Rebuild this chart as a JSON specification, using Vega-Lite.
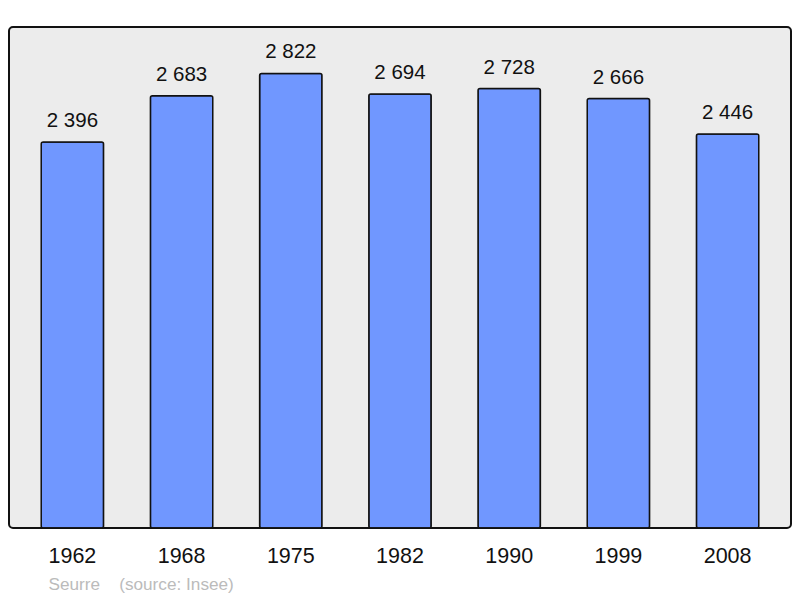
{
  "$schema": "https://vega.github.io/schema/vega-lite/v6.json",
  "width": 782,
  "height": 501,
  "autosize": {"type": "none"},
  "padding": {"left": 9, "top": 27, "right": 9, "bottom": 70},
  "background": "white",
  "config": {
    "font": "Liberation Sans",
    "view": {"fill": "#ececec", "stroke": "#111111", "strokeWidth": 2, "cornerRadius": 4},
    "locale": {"number": {"decimal": ",", "thousands": " ", "grouping": [3], "currency": ["", " €"]}}
  },
  "data": {
    "values": [
      {"year": "1962", "population": 2396},
      {"year": "1968", "population": 2683},
      {"year": "1975", "population": 2822},
      {"year": "1982", "population": 2694},
      {"year": "1990", "population": 2728},
      {"year": "1999", "population": 2666},
      {"year": "2008", "population": 2446}
    ]
  },
  "encoding": {
    "x": {
      "field": "year",
      "type": "ordinal",
      "scale": {"paddingInner": 0.429, "paddingOuter": 0.295},
      "axis": {
        "domain": false,
        "ticks": false,
        "grid": false,
        "labelAngle": 0,
        "labelFontSize": 21.5,
        "labelColor": "#111111",
        "labelPadding": 17,
        "title": "Seurre\u00a0\u00a0\u00a0\u00a0(source: Insee)",
        "titleFontSize": 17.2,
        "titleFontWeight": "normal",
        "titleColor": "#bbbbbb",
        "titleAlign": "left",
        "titleAnchor": "start",
        "titleBaseline": "alphabetic",
        "titleX": 39,
        "titleY": 61
      }
    },
    "y": {
      "field": "population",
      "type": "quantitative",
      "scale": {"domain": [0, 3110], "nice": false},
      "axis": null
    }
  },
  "layer": [
    {
      "mark": {"type": "bar", "color": "#7097ff", "stroke": "#111111", "strokeWidth": 1.5, "cornerRadius": 2}
    },
    {
      "mark": {"type": "text", "fontSize": 20.5, "color": "#111111", "baseline": "alphabetic", "dy": -15},
      "encoding": {
        "text": {"field": "population", "type": "quantitative", "format": ",d"}
      }
    }
  ]
}
